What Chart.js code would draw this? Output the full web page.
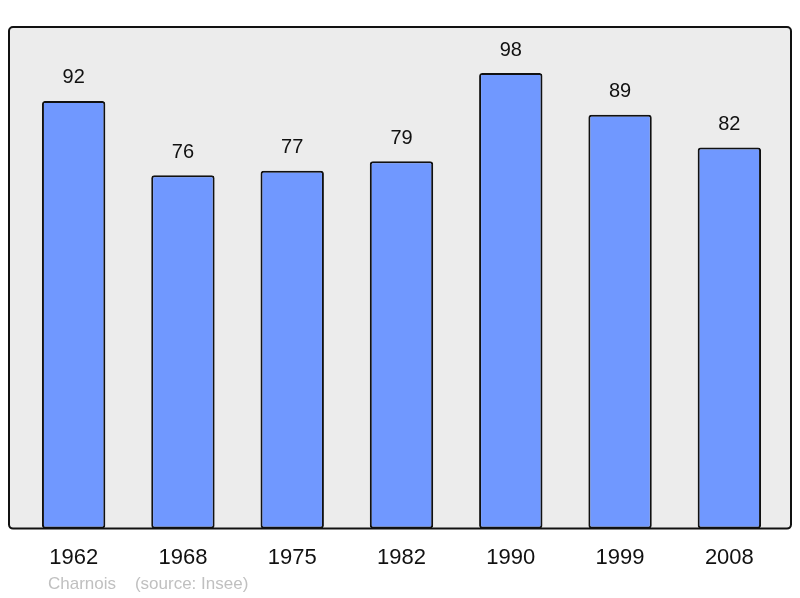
<!DOCTYPE html>
<html>
<head>
<meta charset="utf-8">
<script src="https://cdn.jsdelivr.net/npm/chart.js@4/dist/chart.umd.min.js"></script>
<style>
  html, body { margin: 0; padding: 0; background: #fff; }
  #wrap { width: 800px; height: 598px; position: relative; }
</style>
</head>
<body>
<div id="wrap"><canvas id="popChart"></canvas></div>
<script>
// Population data (Charnois, source Insee)
const years = ['1962', '1968', '1975', '1982', '1990', '1999', '2008'];
const population = [92, 76, 77, 79, 98, 89, 82];
const footerText = 'Charnois    (source: Insee)';

// Grey panel with black frame behind the bars
const panelPlugin = {
    id: 'panel',
    beforeDraw(chart) {
        const { ctx, chartArea } = chart;
        const x = 9, y = chartArea.top, w = 782, h = chartArea.bottom - chartArea.top;
        ctx.save();
        ctx.beginPath();
        ctx.roundRect(x, y, w, h, 4);
        ctx.fillStyle = '#ececec';
        ctx.fill();
        ctx.restore();
    },
    afterDatasetsDraw(chart) {
        const { ctx, chartArea } = chart;
        const x = 9, y = chartArea.top, w = 782, h = chartArea.bottom - chartArea.top;
        ctx.save();
        ctx.beginPath();
        ctx.roundRect(x, y, w, h, 4);
        ctx.lineWidth = 2;
        ctx.strokeStyle = '#111';
        ctx.stroke();

        // value labels above each bar
        ctx.font = '20px "Liberation Sans", Arial, sans-serif';
        ctx.fillStyle = '#111';
        ctx.textAlign = 'center';
        ctx.textBaseline = 'middle';
        chart.getDatasetMeta(0).data.forEach((bar, i) => {
            ctx.fillText(String(population[i]), bar.x, bar.y - 23);
        });

        // footer
        ctx.font = '17px "Liberation Sans", Arial, sans-serif';
        ctx.fillStyle = '#c0c0c0';
        ctx.textAlign = 'left';
        ctx.fillText(footerText, 48, 584);
        ctx.restore();
    }
};

new Chart(document.getElementById('popChart'), {
    type: 'bar',
    data: {
        labels: years,
        datasets: [{
            data: population,
            backgroundColor: '#7098ff',
            borderColor: '#111',
            borderWidth: 2,
            borderRadius: 3,
            borderSkipped: false,
            barPercentage: 0.58,
            categoryPercentage: 1
        }]
    },
    options: {
        responsive: true,
        maintainAspectRatio: false,
        animation: false,
        devicePixelRatio: 1,
        layout: { padding: { left: 19, right: 16, top: 27, bottom: 19 } },
        plugins: { legend: { display: false }, tooltip: { enabled: false } },
        scales: {
            x: {
                grid: { display: false },
                border: { display: false },
                ticks: {
                    color: '#111',
                    padding: 8,
                    font: { size: 22, family: '"Liberation Sans", Arial, sans-serif' }
                }
            },
            y: {
                display: false,
                min: 0,
                max: 107.9
            }
        }
    },
    plugins: [panelPlugin]
});
</script>
</body>
</html>
